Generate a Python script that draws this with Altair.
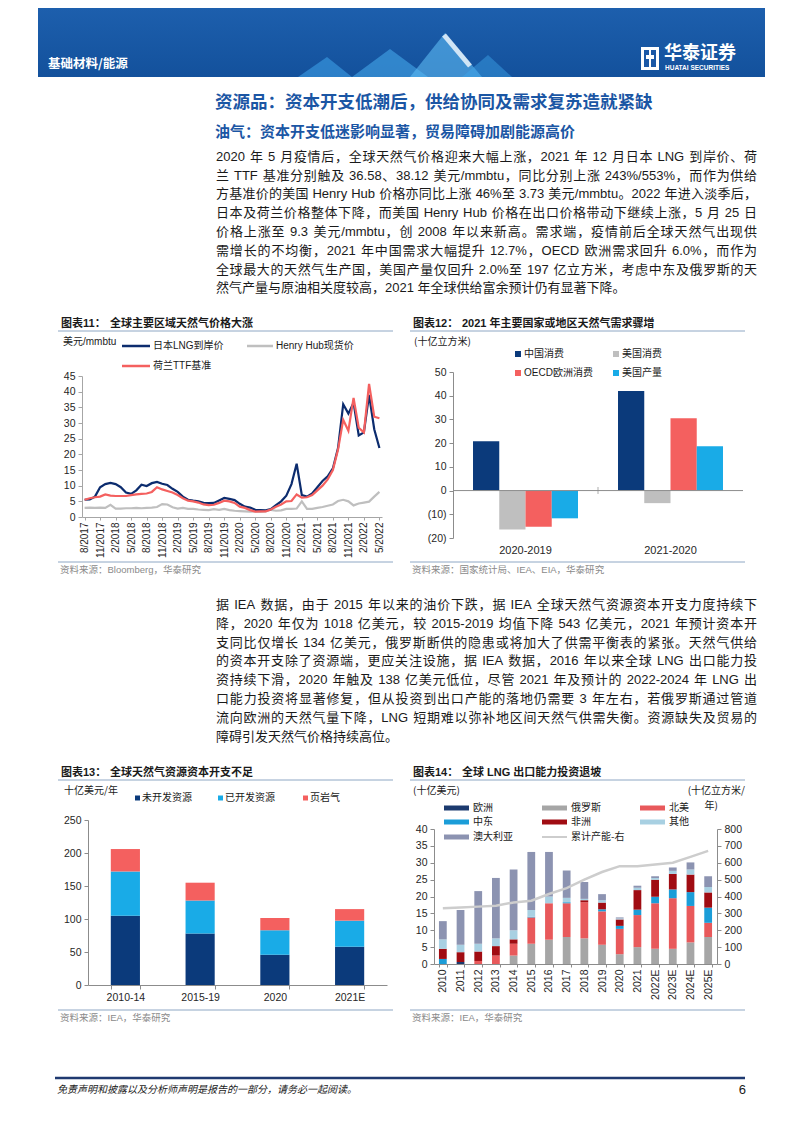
import altair as alt
import pandas as pd

SANS = "Liberation Sans, Noto Sans CJK SC, sans-serif"
CJK = "Noto Sans CJK SC, sans-serif"
ONE = pd.DataFrame({"k": [0]})

# ---------------- data: chart 11 (monthly prices, USD/mmbtu) ----------------
months = []
_m, _y = 8, 2017
for _ in range(58):
    months.append(f"{_m}/{_y}")
    _m += 1
    if _m > 12:
        _m, _y = 1, _y + 1
series11 = ["日本LNG到岸价", "Henry Hub现货价", "荷兰TTF基准"]
jp_lng = [5.5, 5.6, 6.5, 9.5, 10.5, 10.9, 10.5, 9.5, 7.8, 7.4,
          8.5, 10.3, 9.9, 10.8, 11.2, 10.6, 10.2, 9.0, 8.0, 6.5,
          5.5, 5.2, 5.0, 4.5, 4.4, 4.5, 5.3, 6.1, 5.8, 5.4,
          4.2, 3.3, 3.0, 2.3, 2.2, 2.1, 2.5, 3.8, 5.0, 6.8,
          10.5, 17.0, 7.0, 6.5, 7.5, 9.5, 11.5, 13.0, 15.5, 22.0,
          36.0, 33.0, 36.5, 26.0, 27.0, 39.0, 28.0, 22.0]
ttf = [5.5, 6.0, 6.3, 6.5, 7.2, 6.8, 6.7, 6.7, 6.7, 7.0,
       7.2, 7.4, 7.5, 8.0, 9.5, 8.8, 8.3, 7.8, 7.0, 6.0,
       5.2, 5.0, 4.6, 4.0, 3.8, 3.9, 4.5, 5.2, 5.0, 4.5,
       3.3, 2.9, 2.2, 1.7, 1.8, 1.8, 2.4, 3.3, 4.0, 5.0,
       5.1, 7.2, 6.2, 6.3, 7.0, 8.5, 10.0, 12.0, 15.0, 21.5,
       31.0, 27.5, 38.0, 28.5, 27.0, 42.5, 32.0, 31.5]
henry_hub = [2.9, 3.0, 2.9, 3.0, 2.9, 3.9, 2.7, 2.7, 2.8, 2.8,
             2.9, 2.8, 2.9, 3.0, 3.2, 4.1, 4.0, 3.1, 2.7, 2.9,
             2.6, 2.6, 2.4, 2.3, 2.2, 2.5, 2.3, 2.6, 2.2, 2.0,
             1.9, 1.8, 1.7, 1.8, 1.6, 1.8, 2.3, 2.0, 2.1, 2.6,
             2.6, 2.7, 5.0, 2.6, 2.6, 2.9, 3.2, 3.6, 4.0, 5.1,
             5.5, 5.0, 3.7, 4.3, 4.6, 4.9, 6.5, 8.0]

# ---------------- data: chart 12 (bcm change) ----------------
periods12 = ["2020-2019", "2021-2020"]
series12 = ["中国消费", "美国消费", "OECD欧洲消费", "美国产量"]
china_cons = [20.8, 42.0]
us_cons = [-16.4, -5.3]
oecd_eu_cons = [-15.3, 30.5]
us_prod = [-11.7, 18.7]

# ---------------- data: chart 13 (USD bn / yr) ----------------
periods13 = ["2010-14", "2015-19", "2020", "2021E"]
series13 = ["未开发资源", "已开发资源", "页岩气"]
undeveloped = [105, 78, 46, 58]
developed = [67, 50, 37, 39.5]
shale = [34, 27, 18.5, 17.5]

# ---------------- data: chart 14 (USD bn; bcm/yr) ----------------
years14 = ["2010", "2011", "2012", "2013", "2014", "2015", "2016", "2017",
           "2018", "2019", "2020", "2021", "2022E", "2023E", "2024E", "2025E"]
series14 = ["欧洲", "俄罗斯", "北美", "中东", "非洲", "其他", "澳大利亚"]
europe = [0, 0.6, 0, 0, 0, 0, 0, 0, 0, 0, 0, 0, 0, 0, 0, 0]
russia = [0, 0, 0, 0, 2.5, 6.0, 7.2, 8.0, 7.6, 5.7, 2.9, 5.0, 4.5, 4.5, 6.4, 8.0]
north_america = [0, 0, 0.9, 2.5, 3.5, 7.8, 10.8, 10.0, 10.7, 9.9, 7.5, 9.5, 13.5, 15.0, 10.8, 4.2]
middle_east = [1.5, 0, 0, 0, 0, 0.2, 0, 0.3, 0, 0.6, 0.9, 1.6, 1.9, 2.6, 4.1, 4.5]
africa = [3.0, 2.9, 2.8, 2.8, 1.3, 0, 0, 0, 0.6, 2.0, 1.9, 5.8, 5.1, 4.6, 5.2, 4.5]
other = [2.8, 2.2, 2.3, 2.3, 2.7, 2.0, 2.0, 1.3, 0.4, 0.7, 0.3, 0.7, 0.5, 0.9, 1.5, 1.6]
australia = [5.4, 10.3, 15.6, 17.9, 18.0, 17.2, 13.2, 8.1, 5.0, 1.8, 0.3, 0.6, 0.5, 1.0, 2.1, 3.2]
capacity = [330, 335, 340, 345, 365, 375, 415, 450, 500, 545, 580, 580, 590, 600, 635, 670]

# ---------------- page text ----------------
para1 = [
    "2020 年 5 月疫情后，全球天然气价格迎来大幅上涨，2021 年 12 月日本 LNG 到岸价、荷",
    "兰 TTF 基准分别触及 36.58、38.12 美元/mmbtu，同比分别上涨 243%/553%，而作为供给",
    "方基准价的美国 Henry Hub 价格亦同比上涨 46%至 3.73 美元/mmbtu。2022 年进入淡季后，",
    "日本及荷兰价格整体下降，而美国 Henry Hub 价格在出口价格带动下继续上涨，5 月 25 日",
    "价格上涨至 9.3 美元/mmbtu，创 2008 年以来新高。需求端，疫情前后全球天然气出现供",
    "需增长的不均衡，2021 年中国需求大幅提升 12.7%，OECD 欧洲需求回升 6.0%，而作为",
    "全球最大的天然气生产国，美国产量仅回升 2.0%至 197 亿立方米，考虑中东及俄罗斯的天",
    "然气产量与原油相关度较高，2021 年全球供给富余预计仍有显著下降。",
]
para2 = [
    "据 IEA 数据，由于 2015 年以来的油价下跌，据 IEA 全球天然气资源资本开支力度持续下",
    "降，2020 年仅为 1018 亿美元，较 2015-2019 均值下降 543 亿美元，2021 年预计资本开",
    "支同比仅增长 134 亿美元，俄罗斯断供的隐患或将加大了供需平衡表的紧张。天然气供给",
    "的资本开支除了资源端，更应关注设施，据 IEA 数据，2016 年以来全球 LNG 出口能力投",
    "资持续下滑，2020 年触及 138 亿美元低位，尽管 2021 年及预计的 2022-2024 年 LNG 出",
    "口能力投资将显著修复，但从投资到出口产能的落地仍需要 3 年左右，若俄罗斯通过管道",
    "流向欧洲的天然气量下降，LNG 短期难以弥补地区间天然气供需失衡。资源缺失及贸易的",
    "障碍引发天然气价格持续高位。",
]

# ---------------- colours ----------------
NAVY11 = "#0C2C6E"
NAVY = "#0B3A7B"
RED = "#F4605F"
GRAY = "#BFBFBF"
CYAN = "#19ABE7"
cols14 = ["#1C3A6E", "#A6A6A6", "#E8595B", "#1B9DD8", "#A00C12", "#A8D0E2", "#8C93B1"]
LINE14 = "#CDCDCD"
RULEBLUE = "#8EA7C4"
TITLEBLUE = "#1B56A4"
TXT = "#1A1A1A"
SRC = "#8A8A8A"

# Arial / Liberation Sans advance widths (em) for justified paragraph layout
AW = {" ": .278, ".": .278, ",": .278, "/": .278, "-": .333, "%": .889,
      "A": .667, "C": .722, "D": .722, "E": .667, "F": .611, "G": .778, "H": .722,
      "I": .278, "L": .556, "N": .722, "O": .778, "T": .611,
      "b": .556, "e": .556, "h": .556, "m": .833, "n": .556, "r": .333,
      "t": .278, "u": .556, "y": .5}


def layout_paragraph(lines, x0, x1, y0, dy, size):
    rows = []
    for li, line in enumerate(lines):
        items = []
        buf = ""
        for ch in line:
            cjk = ord(ch) > 0x2E80
            if cjk or ch == " ":
                if buf:
                    items.append((buf, sum(AW.get(c, .556) for c in buf) * size, False))
                    buf = ""
                items.append((ch, size if cjk else AW[" "] * size, ch == " "))
            else:
                buf += ch
        if buf:
            items.append((buf, sum(AW.get(c, .556) for c in buf) * size, False))
        natural = sum(w for _, w, _ in items)
        last = li == len(lines) - 1
        gap = 0 if last else (x1 - x0 - natural) / max(1, len(items) - 1)
        x = x0
        for t, w, sp in items:
            if not sp:
                rows.append({"t": t, "px": x, "py": y0 + dy * li})
            x += w + gap
    return pd.DataFrame(rows)


class Cell:
    def __init__(self, ox, oy, w, h):
        self.ox, self.oy, self.w, self.h = ox, oy, w, h
        self.data_layers = []
        self.layers = []

    def X(self, px):
        return px - self.ox

    def Y(self, py):
        return py - self.oy

    def text(self, px, py, s, size=12, color=TXT, weight="normal", align="left",
             font=CJK, italic=False):
        kw = dict(text=s, fontSize=size, color=color, fontWeight=weight,
                  align=align, baseline="middle", font=font)
        if italic:
            kw["fontStyle"] = "italic"
        self.layers.append(alt.Chart(ONE).mark_text(**kw).encode(
            x=alt.value(self.X(px)), y=alt.value(self.Y(py))))

    def tokens(self, df, size=13):
        d = df.copy()
        d["cx"] = d["px"] - self.ox
        d["cy"] = d["py"] - self.oy
        self.layers.append(alt.Chart(d).mark_text(
            align="left", baseline="middle", fontSize=size, font=SANS, color=TXT).encode(
            x=alt.X("cx:Q", scale=None, axis=None), y=alt.Y("cy:Q", scale=None, axis=None),
            text="t:N"))

    def rect(self, x1, y1, x2, y2, color, opacity=1.0):
        self.layers.append(alt.Chart(ONE).mark_rect(color=color, opacity=opacity).encode(
            x=alt.value(self.X(x1)), x2=alt.value(self.X(x2)),
            y=alt.value(self.Y(y1)), y2=alt.value(self.Y(y2))))

    def hline(self, x1, x2, py, color, width=1.0):
        self.layers.append(alt.Chart(ONE).mark_rule(color=color, strokeWidth=width).encode(
            x=alt.value(self.X(x1)), x2=alt.value(self.X(x2)), y=alt.value(self.Y(py))))

    def seg(self, x1, y1, x2, y2, color, width=1.0, opacity=1.0):
        self.layers.append(alt.Chart(ONE).mark_rule(color=color, strokeWidth=width, opacity=opacity).encode(
            x=alt.value(self.X(x1)), x2=alt.value(self.X(x2)),
            y=alt.value(self.Y(y1)), y2=alt.value(self.Y(y2))))

    def triangle(self, xl, xr, apex_x, apex_y, base_y, color, opacity):
        # decorative filled triangle drawn as a custom symbol path
        w = xr - xl
        cx = (xl + xr) / 2
        cy = base_y - w / 2
        ax = (apex_x - cx) / (w / 2)
        ay = (apex_y - cy) / (w / 2)
        path = f"M -1 1 L {ax:.3f} {ay:.3f} L 1 1 Z"
        self.layers.append(alt.Chart(ONE).mark_point(
            shape=path, size=w * w, filled=True, color=color, opacity=opacity, strokeWidth=0).encode(
            x=alt.value(self.X(cx)), y=alt.value(self.Y(cy))))

    def chart(self, indep_y=False):
        ch = alt.layer(*self.data_layers, *self.layers).properties(width=self.w, height=self.h)
        if indep_y:
            ch = ch.resolve_scale(y="independent")
        return ch


def axis(**kw):
    base = dict(title=None, grid=False, labelFont=SANS, labelColor="#262626",
                labelFontSize=10.5, domainColor="#8C8C8C", tickColor="#8C8C8C",
                tickSize=4, domainWidth=1, tickWidth=1, labelOverlap=False)
    base.update(kw)
    return alt.Axis(**base)


def chart_frame(cell, x_left, x_right, y_title, num, title, y_src, src):
    cell.text(x_left + 3, y_title, num, size=11, weight="bold", font=SANS)
    cell.text(x_left + 52, y_title, title, size=11, weight="bold", font=SANS)
    cell.hline(x_left, x_right, y_title + 7, RULEBLUE, 1)
    cell.hline(x_left, x_right, y_src - 8, RULEBLUE, 1)
    cell.text(x_left + 2, y_src, src, size=9.5, color=SRC, font=SANS)


MID = 401  # page x where the right column starts

# ================= Row 1: header + paragraph 1 =================
r1L = Cell(8, 8, 393, 307)
r1R = Cell(MID, 8, 393, 307)
grad = alt.LinearGradient(gradient="linear",
                          stops=[alt.GradientStop(color="#1D5FAD", offset=0),
                                 alt.GradientStop(color="#13519C", offset=1)],
                          x1=0, x2=0, y1=0, y2=1)
r1L.rect(38, 8, 765, 77, grad)
# banner decoration: translucent "mountain" triangles
r1L.triangle(298, 352, 327, 57, 77, "#3FA6EC", 0.55)
r1L.triangle(352, 428, 390, 49, 77, "#48AEF0", 0.55)
r1L.triangle(410, 482, 445, 33, 77, "#5EBBF3", 0.6)
r1L.triangle(462, 512, 488, 55, 77, "#3FA6EC", 0.45)
r1L.seg(444, 35, 470, 66, "#EAF3FB", 5, 0.85)
r1L.text(48, 64, "基础材料/能源", size=12.5, color="white", weight="bold")
r1R.rect(641, 47, 659, 70, "white")
r1R.rect(644, 50, 649, 67, "#1B58A6")
r1R.rect(651, 50, 656, 67, "#1B58A6")
r1R.rect(646, 55, 654, 59, "white")
r1R.text(664, 54, "华泰证券", size=18, color="white", weight="bold")
r1R.text(665, 67.5, "HUATAI SECURITIES", size=6.5, color="white", weight="bold", font=SANS)

r1L.text(215, 103, "资源品：资本开支低潮后，供给协同及需求复苏造就紧缺", size=17.5, color=TITLEBLUE, weight="bold")
r1L.text(215, 131.5, "油气：资本开支低迷影响显著，贸易障碍加剧能源高价", size=15, color=TITLEBLUE, weight="bold")
tok1 = layout_paragraph(para1, 216, 757, 156.7, 18.8, 13)
r1L.tokens(tok1[tok1.px < MID])
r1R.tokens(tok1[tok1.px >= MID])

# ================= Chart 11 =================
c11 = Cell(8, 315, 393, 275)
df11 = pd.DataFrame({
    "month": months * 3,
    "series": [s for s in series11 for _ in months],
    "value": jp_lng + henry_hub + ttf,
})
x11 = alt.X("month:O", scale=alt.Scale(type="point", domain=months,
                                        range=[c11.X(82), c11.X(382)], padding=0.5),
            axis=axis(values=months[::3], labelAngle=-90, labelFontSize=10, tickSize=3,
                      labelPadding=2, domainColor="#A6A6A6", tickColor="#A6A6A6",
                      offset=c11.Y(517) - c11.h))
y11 = alt.Y("value:Q", scale=alt.Scale(domain=[0, 45], range=[c11.Y(517), c11.Y(376)], nice=False),
            axis=axis(values=list(range(0, 50, 5)), labelFontSize=10.5, labelPadding=3,
                      domainColor="#A6A6A6", tickColor="#A6A6A6", offset=-c11.X(82)))
for s, col in [("Henry Hub现货价", GRAY), ("日本LNG到岸价", NAVY11), ("荷兰TTF基准", RED)]:
    c11.data_layers.append(alt.Chart(df11).transform_filter(alt.datum.series == s)
                           .mark_line(color=col, strokeWidth=2.2).encode(x=x11, y=y11))
chart_frame(c11, 58, 393, 324, "图表11：", "全球主要区域天然气价格大涨", 570, "资料来源：Bloomberg，华泰研究")
c11.text(63, 342, "美元/mmbtu", size=10, font=SANS)
c11.hline(122, 150, 346, NAVY11, 2.5)
c11.text(153, 346, "日本LNG到岸价", size=10, font=SANS)
c11.hline(247, 273, 346, GRAY, 2.5)
c11.text(276, 346, "Henry Hub现货价", size=10, font=SANS)
c11.hline(122, 150, 366, RED, 2.5)
c11.text(153, 366, "荷兰TTF基准", size=10, font=SANS)

# ================= Chart 12 =================
c12 = Cell(MID, 315, 393, 275)
df12 = pd.DataFrame({
    "period": periods12 * 4,
    "series": [s for s in series12 for _ in periods12],
    "value": china_cons + us_cons + oecd_eu_cons + us_prod,
})
cols12 = [NAVY, GRAY, RED, CYAN]
y12 = alt.Y("value:Q", scale=alt.Scale(domain=[-20, 50], range=[c12.Y(538), c12.Y(372)], nice=False),
            axis=axis(values=[-20, -10, 0, 10, 20, 30, 40, 50],
                      labelExpr="datum.value < 0 ? '(' + abs(datum.value) + ')' : '' + datum.value",
                      labelPadding=3, offset=-c12.X(453)))
c12.data_layers.append(alt.Chart(df12).mark_bar().encode(
    x=alt.X("period:N", scale=alt.Scale(domain=periods12, range=[c12.X(453), c12.X(743)],
                                         paddingInner=0.276, paddingOuter=0.138),
            axis=axis(labelAngle=0, domain=False, ticks=False, labelPadding=6, labelFontSize=11,
                      offset=c12.Y(538) - c12.h)),
    xOffset=alt.XOffset("series:N", scale=alt.Scale(domain=series12, paddingInner=0, paddingOuter=0)),
    y=y12,
    color=alt.Color("series:N", scale=alt.Scale(domain=series12, range=cols12), legend=None),
))
# zero baseline across the plot and the small category-divider tick on it
c12.data_layers.append(alt.Chart(ONE).transform_calculate(value="0").mark_rule(color="#8C8C8C").encode(
    x=alt.value(c12.X(453)), x2=alt.value(c12.X(743)), y=y12))
c12.data_layers.append(alt.Chart(ONE).transform_calculate(value="0").mark_tick(
    color="#8C8C8C", orient="vertical", size=7, thickness=1).encode(
    x=alt.value(c12.X(598)), y=y12))
chart_frame(c12, 410, 745, 324, "图表12：", "2021 年主要国家或地区天然气需求骤增", 570,
            "资料来源：国家统计局、IEA、EIA，华泰研究")
c12.text(414, 342, "(十亿立方米)", size=10)
for (sx, sy, col, lab) in [(515, 354, NAVY, "中国消费"), (613, 354, GRAY, "美国消费"),
                           (515, 373, RED, "OECD欧洲消费"), (613, 373, CYAN, "美国产量")]:
    c12.rect(sx, sy - 3, sx + 6, sy + 3, col)
    c12.text(sx + 9, sy, lab, size=10, font=SANS)

# ================= Row 3: paragraph 2 =================
r3L = Cell(8, 590, 393, 155)
r3R = Cell(MID, 590, 393, 155)
tok2 = layout_paragraph(para2, 216, 757, 605, 18.8, 13)
r3L.tokens(tok2[tok2.px < MID])
r3R.tokens(tok2[tok2.px >= MID])

# ================= Chart 13 =================
c13 = Cell(8, 745, 393, 285)
df13 = pd.DataFrame({
    "period": periods13 * 3,
    "series": [s for s in series13 for _ in periods13],
    "value": undeveloped + developed + shale,
    "ord": [i for i in range(3) for _ in periods13],
})
c13.data_layers.append(alt.Chart(df13).mark_bar().encode(
    x=alt.X("period:N", scale=alt.Scale(domain=periods13, range=[c13.X(88), c13.X(387)],
                                         paddingInner=0.61, paddingOuter=0.305),
            axis=axis(labelAngle=0, tickBand="extent", labelPadding=3, labelFontSize=10.5,
                      offset=c13.Y(985) - c13.h)),
    y=alt.Y("value:Q", stack="zero",
            scale=alt.Scale(domain=[0, 250], range=[c13.Y(985), c13.Y(820)], nice=False),
            axis=axis(values=[0, 50, 100, 150, 200, 250], labelPadding=3, offset=-c13.X(88))),
    color=alt.Color("series:N", scale=alt.Scale(domain=series13, range=[NAVY, CYAN, RED]), legend=None),
    order=alt.Order("ord:Q", sort="ascending"),
))
chart_frame(c13, 58, 393, 773, "图表13：", "全球天然气资源资本开支不足", 1018, "资料来源：IEA，华泰研究")
c13.text(64, 791, "十亿美元/年", size=10)
for (sx, col, lab) in [(135, NAVY, "未开发资源"), (218, CYAN, "已开发资源"), (303, RED, "页岩气")]:
    c13.rect(sx, 795.5, sx + 5, 800.5, col)
    c13.text(sx + 7, 798, lab, size=10)

# ================= Chart 14 =================
c14 = Cell(MID, 745, 393, 285)
vals14 = [europe, russia, north_america, middle_east, africa, other, australia]
df14 = pd.DataFrame({
    "year": years14 * len(series14),
    "series": [s for s in series14 for _ in years14],
    "value": [v for arr in vals14 for v in arr],
    "ord": [i for i in range(len(series14)) for _ in years14],
})
df14cap = pd.DataFrame({"year": years14, "capacity": capacity})
x14 = alt.X("year:N", scale=alt.Scale(domain=years14, range=[c14.X(434), c14.X(717)],
                                       paddingInner=0.56, paddingOuter=0.28),
            axis=axis(labelAngle=-90, tickBand="extent", tickSize=3, labelPadding=2, labelFontSize=10.5,
                      offset=c14.Y(964) - c14.h))
c14.data_layers.append(alt.Chart(df14).mark_bar().encode(
    x=x14,
    y=alt.Y("value:Q", stack="zero",
            scale=alt.Scale(domain=[0, 40], range=[c14.Y(964), c14.Y(829)], nice=False),
            axis=axis(values=list(range(0, 45, 5)), labelPadding=3, orient="left",
                      offset=-c14.X(434))),
    color=alt.Color("series:N", scale=alt.Scale(domain=series14, range=cols14), legend=None),
    order=alt.Order("ord:Q", sort="ascending"),
))
c14.data_layers.append(alt.Chart(df14cap).mark_line(color=LINE14, strokeWidth=2.5).encode(
    x=x14,
    y=alt.Y("capacity:Q", scale=alt.Scale(domain=[0, 800], range=[c14.Y(964), c14.Y(829)], nice=False),
            axis=axis(values=list(range(0, 900, 100)), labelPadding=3, orient="right",
                      offset=c14.X(717) - c14.w)),
))
chart_frame(c14, 410, 745, 773, "图表14：", "全球 LNG 出口能力投资退坡", 1018, "资料来源：IEA，华泰研究")
c14.text(413, 791, "(十亿美元)", size=10)
c14.text(745, 791, "(十亿立方米/", size=10, align="right")
c14.text(718, 806, "年)", size=10, align="right")
legend14 = [
    (444, 808, cols14[0], "欧洲"), (542, 808, cols14[1], "俄罗斯"), (640, 808, cols14[2], "北美"),
    (444, 822, cols14[3], "中东"), (542, 822, cols14[4], "非洲"), (640, 822, cols14[5], "其他"),
    (444, 837, cols14[6], "澳大利亚"),
]
for (sx, sy, col, lab) in legend14:
    c14.rect(sx, sy - 2.5, sx + 25, sy + 2.5, col)
    c14.text(sx + 29, sy, lab, size=10)
c14.hline(542, 567, 837, LINE14, 2)
c14.text(571, 837, "累计产能-右", size=10)

# ================= Row 5: footer =================
r5L = Cell(8, 1030, 393, 95)
r5R = Cell(MID, 1030, 393, 95)
r5L.hline(55, 745, 1078, "#1F3A70", 2.5)
r5L.text(57, 1090, "免责声明和披露以及分析师声明是报告的一部分，请务必一起阅读。", size=10, italic=True)
r5R.text(746, 1090, "6", size=13, align="right", font=SANS)

chart = alt.concat(
    r1L.chart(), r1R.chart(),
    c11.chart(), c12.chart(),
    r3L.chart(), r3R.chart(),
    c13.chart(), c14.chart(indep_y=True),
    r5L.chart(), r5R.chart(),
    columns=2, spacing=0, bounds="flush",
).resolve_scale(color="independent").properties(
    padding=0, background="white").configure_view(stroke=None)

chart.save("out.html", embed_options={"renderer": "svg", "actions": False})
